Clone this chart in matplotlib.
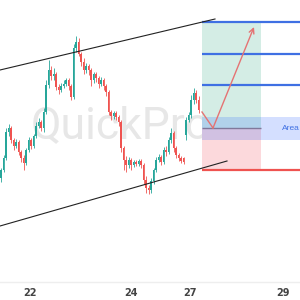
#!/usr/bin/env python3

import numpy as np
import matplotlib
matplotlib.use("Agg")
import matplotlib.pyplot as plt

# candles (arbitrary price units), one per bar index
opens = [122, 130, 142, 168, 172, 160, 154, 158, 148, 142, 137, 150, 160, 154, 164, 174, 178, 172, 188, 215,
         230, 224, 226, 213, 210, 214, 216, 220, 214, 203, 252, 258, 246, 238, 230, 234, 230, 220, 226, 222,
         216, 220, 214, 208, 188, 184, 187, 183, 178, 152, 140, 135, 140, 135, 138, 136, 139, 135, 120, 112,
         110, 119, 130, 140, 143, 138, 150, 148, 160, 167, 152, 145, 142, 142, 165, 180, 185, 200, 207, 200]
highs = [132, 145, 172, 176, 174, 162, 161, 160, 150, 145, 152, 163, 162, 166, 178, 182, 180, 192, 220, 240,
         234, 232, 228, 216, 217, 220, 222, 222, 216, 256, 264, 262, 248, 242, 237, 236, 232, 228, 228, 224,
         223, 222, 216, 210, 190, 189, 189, 185, 180, 154, 144, 143, 142, 140, 140, 141, 141, 137, 124, 115,
         122, 132, 143, 146, 145, 153, 154, 163, 172, 169, 154, 147, 144, 143, 183, 188, 205, 212, 210, 204]
lows = [118, 128, 140, 164, 157, 150, 152, 145, 138, 130, 135, 148, 151, 152, 162, 172, 169, 168, 186, 212,
        220, 220, 210, 206, 208, 212, 214, 210, 200, 201, 248, 244, 234, 226, 227, 225, 214, 217, 218, 212,
        214, 210, 204, 185, 180, 181, 180, 174, 148, 130, 128, 132, 130, 133, 134, 134, 132, 116, 107, 106,
        107, 116, 128, 138, 135, 136, 144, 146, 157, 148, 142, 139, 137, 136, 160, 178, 182, 196, 197, 187]
closes = [130, 142, 168, 172, 160, 154, 158, 148, 142, 137, 150, 160, 154, 164, 174, 178, 172, 188, 215, 230,
          224, 226, 213, 210, 214, 216, 220, 214, 203, 252, 258, 246, 238, 230, 234, 230, 220, 226, 222, 216,
          220, 214, 208, 188, 184, 187, 183, 178, 152, 140, 135, 140, 135, 138, 136, 139, 135, 120, 112, 110,
          119, 130, 140, 143, 138, 150, 148, 160, 167, 152, 145, 142, 139, 138, 180, 185, 200, 207, 200, 190]

tick_pos = [11.6, 52, 75.6, 112.8]
tick_labels = ["22", "24", "27", "29"]

# channel lines: (bar, price) end points
upper_channel = ([-0.4, 85.6], [230, 281])
lower_channel = ([-0.4, 90.4], [74, 139])

# long position tool
pos_start, pos_end = 80.4, 104.0
entry_price = 172
stop_price = 130
targets = [278, 246, 215]
area_top, area_bottom = 183, 160

# projected path
path_x = [80.4, 84.8, 101.2]
path_y = [188, 172, 273]

UP = "#26a69a"
DOWN = "#ef5350"
XMIN, XMAX = -0.4, 119.6


def draw_candles(ax):
    idx = np.arange(len(closes))
    o = np.array(opens)
    c = np.array(closes)
    colors = [UP if cc >= oo else DOWN for oo, cc in zip(o, c)]
    ax.vlines(idx, lows, highs, colors=colors, lw=0.6, zorder=3)
    ax.bar(idx, np.abs(c - o) + 0.8, bottom=np.minimum(o, c) - 0.4, width=0.75,
           color=colors, zorder=4, linewidth=0)


def draw_position(ax):
    ax.fill_between([pos_start, pos_end], entry_price, targets[0], color="#d4ede5", lw=0, zorder=1)
    ax.fill_between([pos_start, pos_end], stop_price, entry_price, color="#fcd9dc", lw=0, zorder=1)
    ax.fill_between([pos_start, XMAX], area_bottom, area_top, color="#2962ff", alpha=0.2, lw=0, zorder=2)
    for t in targets:
        ax.hlines(t, pos_start, XMAX, color="#3f70e3", lw=1.6, zorder=5)
    ax.hlines(stop_price, pos_start, XMAX, color="#ef5350", lw=1.6, zorder=5)
    ax.hlines(entry_price, pos_start, pos_end, color="#80789a", lw=1.0, zorder=5)
    ax.text(112.2, (area_top + area_bottom) / 2, "Area", color="#3f70e3", fontsize=6,
            family="Liberation Sans", va="center", ha="left", zorder=6)


def main():
    fig = plt.figure(figsize=(3, 3), dpi=100, facecolor="w")
    ax = fig.add_axes([0, 0.06, 1, 0.94])
    ax.set_xlim(XMIN, XMAX)
    ax.set_ylim(18, 300)

    ax.text(0.403, 0.51, "QuickPro", transform=ax.transAxes, fontsize=32, color="#e7e7e7",
            family="Roboto", weight="normal", ha="center", va="baseline", zorder=0)

    draw_position(ax)
    draw_candles(ax)

    ax.plot(*upper_channel, color="#222222", lw=0.8, zorder=6)
    ax.plot(*lower_channel, color="#222222", lw=0.8, zorder=6)

    ax.plot(path_x[:2], path_y[:2], color="#e57373", lw=1.0, zorder=7)
    ax.annotate("", xy=(path_x[2], path_y[2]), xytext=(path_x[1], path_y[1]),
                arrowprops=dict(arrowstyle="->", color="#e57373", lw=1.0,
                                shrinkA=0, shrinkB=0, mutation_scale=9), zorder=7)

    ax.set_xticks(tick_pos)
    ax.set_xticklabels(tick_labels, fontsize=7, color="#444444", weight="bold")
    ax.tick_params(axis="x", length=0, pad=4)
    ax.set_yticks([])
    for side in ["top", "left", "right"]:
        ax.spines[side].set_visible(False)
    ax.spines["bottom"].set_color("#eeeeee")
    ax.spines["bottom"].set_linewidth(1.0)

    fig.savefig("out.png", dpi=100, facecolor="w")


if __name__ == "__main__":
    main()
